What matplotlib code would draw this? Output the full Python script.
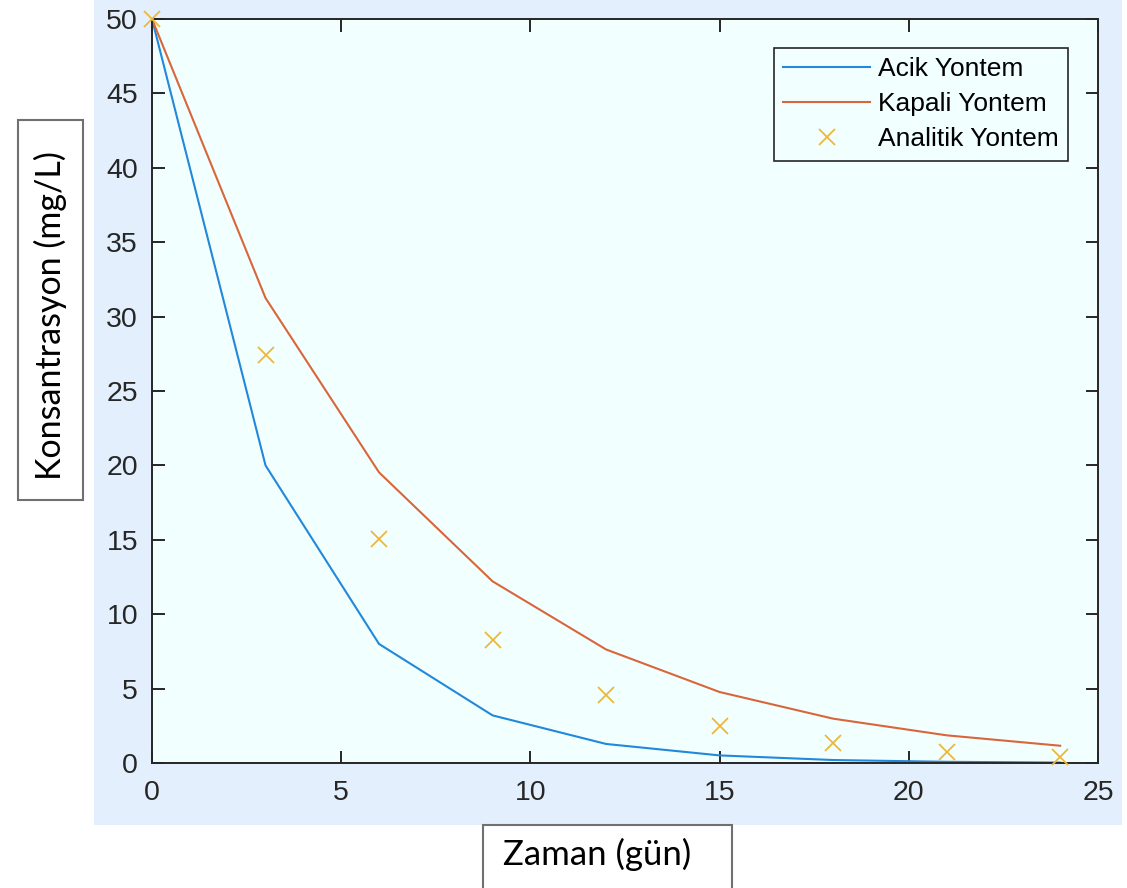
import matplotlib.pyplot as plt
from matplotlib.patches import Rectangle

# Data
zaman = [0, 3, 6, 9, 12, 15, 18, 21, 24]
acik = [50, 20, 8, 3.2, 1.28, 0.51, 0.2, 0.08, 0.03]
kapali = [50, 31.25, 19.53, 12.21, 7.63, 4.77, 2.98, 1.86, 1.16]
analitik = [50, 27.44, 15.06, 8.26, 4.54, 2.49, 1.37, 0.75, 0.41]

W, H = 1127, 888
fig = plt.figure(figsize=(W / 100, H / 100), dpi=100)
fig.patch.set_facecolor('white')

# light blue MATLAB figure area
fig.patches.append(Rectangle((94 / W, 1 - 825 / H), 1028 / W, 825 / H,
                             transform=fig.transFigure, facecolor='#e3effc',
                             edgecolor='none', zorder=-5))

ax = fig.add_axes([152 / W, 1 - 763 / H, 946 / W, 744 / H])
ax.set_zorder(3)
ax.set_facecolor('#f2ffff')

ax.plot(zaman, acik, color='#2288da', lw=1.5, label='Acik Yontem')
ax.plot(zaman, kapali, color='#d9663a', lw=1.5, label='Kapali Yontem')
ax.plot(zaman, analitik, 'x', color='#edb83a', ms=11, mew=1.3,
        label='Analitik Yontem', clip_on=False, zorder=5)

ax.set_xlim(0, 25)
ax.set_ylim(0, 50)
ax.set_xticks(range(0, 26, 5))
ax.set_yticks(range(0, 51, 5))

for s in ax.spines.values():
    s.set_color('#262626')
    s.set_linewidth(1.4)
ax.tick_params(direction='in', length=9, width=1.4, color='#262626',
               labelcolor='#262626', labelsize=20.5, top=True, right=True)
ax.tick_params(axis='x', pad=12)
ax.tick_params(axis='y', pad=10)
for lab in ax.get_xticklabels() + ax.get_yticklabels():
    lab.set_family('Liberation Sans')

leg = ax.legend(loc='upper right', bbox_to_anchor=((1068 - 152) / 946, (763 - 48) / 744),
                borderaxespad=0, fancybox=False, framealpha=1,
                prop={'family': 'Liberation Sans', 'size': 19},
                handlelength=3.3, handletextpad=0.3, labelspacing=0.42,
                borderpad=0.35)
leg.get_frame().set_facecolor('#f2ffff')
leg.get_frame().set_edgecolor('#262626')
leg.get_frame().set_linewidth(1.2)

# axis labels drawn in separate boxes
fig.patches.append(Rectangle((18 / W, 1 - 500 / H), 65 / W, 380 / H,
                             transform=fig.transFigure, facecolor='white',
                             edgecolor='#707070', lw=1.5, zorder=1))
fig.text(50 / W, 1 - 316 / H, 'Konsantrasyon (mg/L)', rotation=90,
         ha='center', va='center', family='Lato', fontsize=24.5, color='black')

fig.patches.append(Rectangle((483 / W, -0.05), 249 / W, 0.05 + 63 / H,
                             transform=fig.transFigure, facecolor='white',
                             edgecolor='#707070', lw=1.5, zorder=1))
fig.text(597 / W, 1 - 865 / H, 'Zaman (gün)', ha='center', va='baseline',
         family='Lato', fontsize=25, color='black')

fig.savefig('out.png', dpi=100)
